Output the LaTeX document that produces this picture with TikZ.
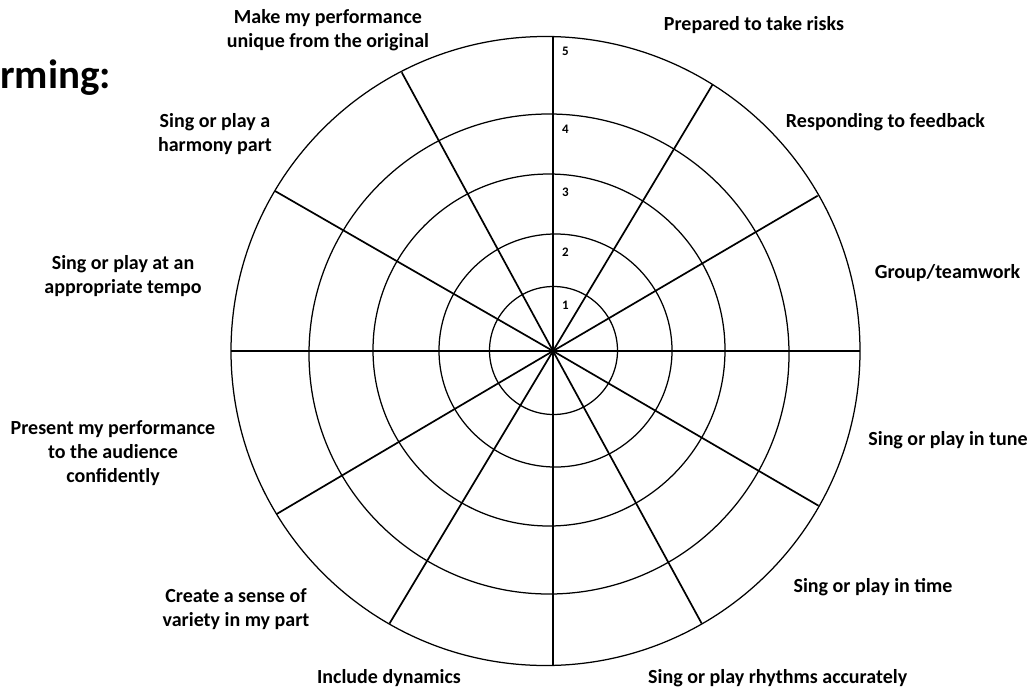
\documentclass[tikz,border=0pt]{standalone}
\usepackage{fontspec}
\setmainfont{Carlito}
\begin{document}
\begin{tikzpicture}[x=1pt,y=-1pt,
  ring/.style={draw=black, line width=1.25pt},
  spoke/.style={draw=black, line width=1.7pt},
  lbl/.style={font=\bfseries\fontsize{20}{24}\selectfont, align=center, inner sep=0pt},
  num/.style={font=\bfseries\fontsize{13}{15}\selectfont, inner sep=0pt},
  ttl/.style={font=\bfseries\fontsize{41}{48}\selectfont, inner sep=0pt}]
\useasboundingbox (0,0) rectangle (1030,691);
% rings
\draw[ring] (553.5,350.5) circle (64);
\draw[ring] (555.5,350.5) circle (116.5);
\draw[ring] (549,350) circle (176);
\draw[ring] (549,354) circle (240);
\draw[ring] (545.5,351) circle (314.5);
% spokes
\coordinate (c) at (553,351);
\coordinate (e90) at (553,36.6);
\coordinate (e60) at (712.7,84.3);
\coordinate (e30) at (817.7,195.7);
\coordinate (e0) at (860,351);
\coordinate (em30) at (818.5,505.7);
\coordinate (em60) at (701.7,623.5);
\coordinate (em90) at (553,665.4);
\coordinate (em120) at (389.5,623.5);
\coordinate (em150) at (276.7,514);
\coordinate (e180) at (231,351);
\coordinate (e150) at (275,191);
\coordinate (e120) at (401.7,72.3);
\foreach \e in {e90,e60,e30,e0,em30,em60,em90,em120,em150,e180,e150,e120}
  \draw[spoke] (c) -- (\e);
% scale numbers
\node[num] (n5) at (565.5,51.7) {5};
\node[num] (n4) at (565.5,129) {4};
\node[num] (n3) at (565.5,192.7) {3};
\node[num] (n2) at (565.5,252.3) {2};
\node[num] (n1) at (565.5,305.7) {1};
% title
\node[ttl, anchor=base west] (title) at (0,88) {rming:};
% labels
\node[lbl] (l1) at (328,30) {Make my performance\\unique from the original};
\node[lbl] (l2) at (754,25) {Prepared to take risks};
\node[lbl] (l3) at (885.5,122) {Responding to feedback};
\node[lbl] (l4) at (947.5,273) {Group/teamwork};
\node[lbl] (l5) at (948,440) {Sing or play in tune};
\node[lbl] (l6) at (873,587) {Sing or play in time};
\node[lbl, anchor=west] (l7) at (648,678) {Sing or play rhythms accurately};
\node[lbl] (l8) at (389,678) {Include dynamics};
\node[lbl] (l9) at (236,609) {Create a sense of\\variety in my part};
\node[lbl] (l10) at (113,453) {Present my performance\\to the audience\\confidently};
\node[lbl] (l11) at (123,276) {Sing or play at an\\appropriate tempo};
\node[lbl] (l12) at (215,134) {Sing or play a\\harmony part};
\end{tikzpicture}
\end{document}
